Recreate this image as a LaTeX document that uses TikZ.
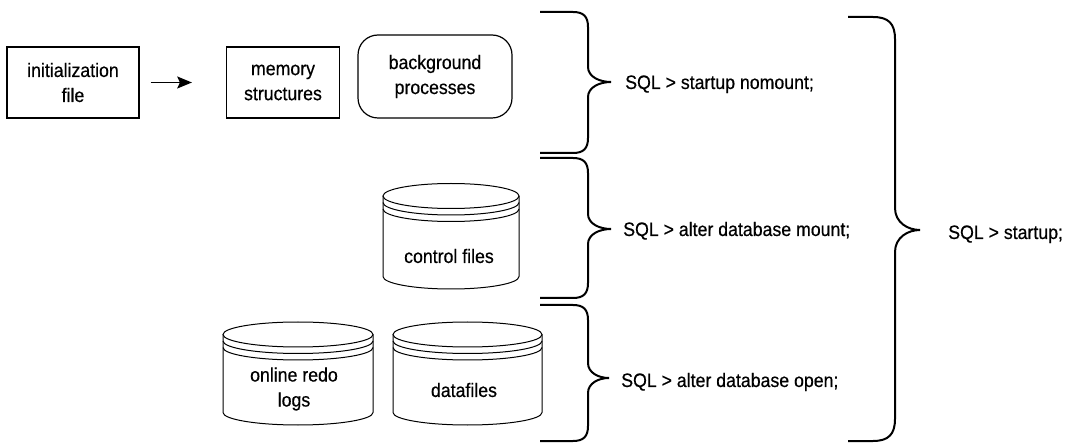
\documentclass[tikz,border=0pt]{standalone}
\usepackage{fontspec}
\setmainfont{Liberation Sans}[FakeStretch=0.91, FakeBold=0.5]
\usetikzlibrary{positioning, arrows.meta}

% stage brace: x start, x of spine, y top, y bottom, x tip, y tip, corner
\newcommand{\stagebrace}[7]{%
  \draw[brace line] (#1,#3) -- ({#2-#7},#3)
    .. controls ({#2-0.3*#7},#3) and (#2,{#3+0.3*#7}) .. (#2,{#3+#7})
    -- (#2,{#6-#7})
    .. controls (#2,{#6-0.35*#7}) and ({#5-0.5*(#5-#2)},#6) .. (#5,#6)
    .. controls ({#5-0.5*(#5-#2)},#6) and (#2,{#6+0.35*#7}) .. (#2,{#6+#7})
    -- (#2,{#4-#7})
    .. controls (#2,{#4-0.3*#7}) and ({#2-0.3*#7},#4) .. ({#2-#7},#4)
    -- (#1,#4);}

% disk: centre x, top centre y, x radius, bottom centre y
\newcommand{\drawdisk}[4]{%
  \draw[disk line] (#1,#2) ellipse [x radius=#3, y radius=12.5];
  \foreach \d in {6.5,13}
    \draw[disk line] ({#1-#3},{#2+\d}) arc [start angle=180, end angle=0, x radius=#3, y radius=12.5];
  \draw[disk line] ({#1-#3},#2) -- ({#1-#3},#4)
    arc [start angle=180, end angle=0, x radius=#3, y radius=12.5] -- ({#1+#3},#2);}

\begin{document}
\begin{tikzpicture}[x=0.75pt, y=-0.75pt, >={Stealth[length=11pt, width=9pt, inset=2pt]},
    every node/.style={font=\fontsize{14.6pt}{18.75pt}\selectfont, align=center},
    box/.style={draw, line width=0.9pt, minimum height=53.25pt, inner sep=0pt},
    brace line/.style={line width=1.5pt},
    disk line/.style={line width=0.75pt},
    sql/.style={anchor=base west, inner sep=0pt}]
    \useasboundingbox (0,0) rectangle (1068,445);

    % nomount stage
    \node (init) [box, minimum width=99pt] at (73,82.5) {initialization\\file};
    \node (mem) [box, minimum width=84.75pt] at (283,82.5) {memory\\structures};
    \node (bg) [box, minimum width=115.5pt, minimum height=62.25pt, rounded corners=15pt] at (435,76.5) {background\\processes};
    \draw[->, line width=1.1pt, shorten <=8.25pt, shorten >=25.5pt] (init.east) -- (mem.west);

    % mount stage
    \drawdisk{451}{196}{68}{276.5}
    \node (ctrl) at (449,256) {control files};

    % open stage
    \drawdisk{298}{334.5}{75}{412.5}
    \drawdisk{467.5}{334.5}{74.5}{412.5}
    \node (redo) at (294,389) {online redo\\logs};
    \node (data) at (464,390) {datafiles};

    % braces
    \stagebrace{540}{588}{12}{153}{611}{82}{15}
    \stagebrace{540}{588}{158}{298}{611}{229}{15}
    \stagebrace{540}{588}{305}{441}{609}{378}{15}
    \stagebrace{848}{895}{17}{441}{920}{230}{22}

    % commands
    \node (nomount) [sql] at (625,89) {SQL > startup nomount;};
    \node (mount) [sql] at (623,236) {SQL > alter database mount;};
    \node (open) [sql] at (621,387) {SQL > alter database open;};
    \node (startup) [sql] at (948,239) {SQL > startup;};
\end{tikzpicture}
\end{document}
